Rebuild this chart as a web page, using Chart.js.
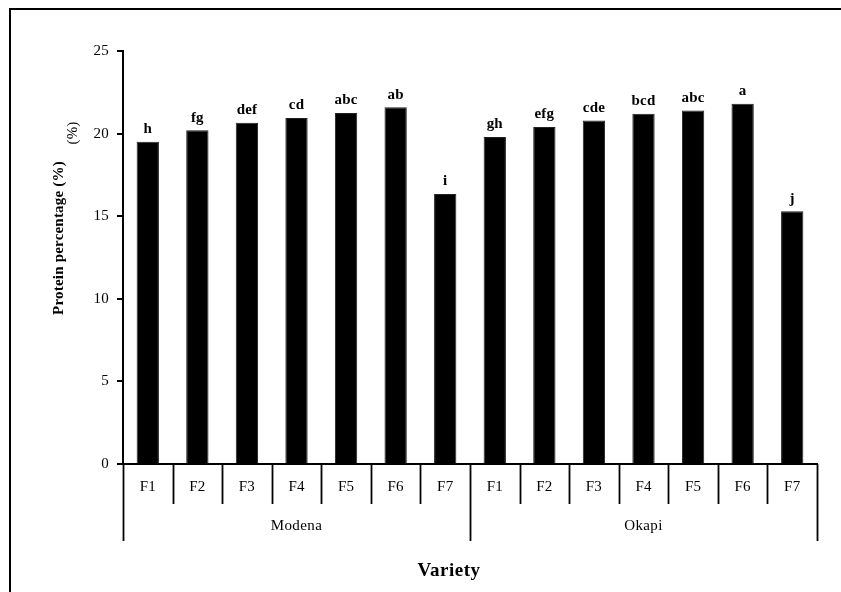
<!DOCTYPE html>
<html>
<head>
<meta charset="utf-8">
<script src="https://cdn.jsdelivr.net/npm/chart.js@4.4.0/dist/chart.umd.min.js"></script>
<style>
  html, body { margin: 0; padding: 0; background: #fff; }
  #wrap { width: 841px; height: 592px; position: relative; }
</style>
</head>
<body>
<div id="wrap"><canvas id="proteinChart" width="841" height="592"></canvas></div>
<script>
// values
const varieties = ['Modena', 'Okapi'];
const treatments = ['F1', 'F2', 'F3', 'F4', 'F5', 'F6', 'F7'];
const modenaValues = [19.5, 20.2, 20.65, 20.95, 21.25, 21.6, 16.35];
const okapiValues = [19.8, 20.4, 20.8, 21.2, 21.4, 21.8, 15.3];
const modenaLetters = ['h', 'fg', 'def', 'cd', 'abc', 'ab', 'i'];
const okapiLetters = ['gh', 'efg', 'cde', 'bcd', 'abc', 'a', 'j'];
const yMin = 0, yMax = 25, yStep = 5;

const serif = "'Liberation Serif', 'Times New Roman', serif";
const labels = treatments.concat(treatments);
const values = modenaValues.concat(okapiValues);
const letters = modenaLetters.concat(okapiLetters);

const extras = {
  id: 'extras',
  beforeDraw(chart) {
    const ctx = chart.ctx;
    ctx.fillStyle = '#000';
    ctx.fillRect(9, 8, 841, 2);
    ctx.fillRect(9, 8, 2, 592);
    ctx.letterSpacing = '0.2px';
  },
  afterDraw(chart) {
    const ctx = chart.ctx;
    const x = chart.scales.x;
    const y = chart.scales.y;
    const base = y.getPixelForValue(0);
    const half = (x.getPixelForValue(1) - x.getPixelForValue(0)) / 2;
    ctx.save();
    ctx.strokeStyle = '#000';
    ctx.lineWidth = 1.8;
    // separators under the axis
    for (let i = 0; i <= labels.length; i++) {
      const px = Math.round(x.getPixelForValue(i) - half) + 0.5;
      const len = (i % treatments.length === 0) ? 77 : 40;
      ctx.beginPath();
      ctx.moveTo(px, base);
      ctx.lineTo(px, base + len);
      ctx.stroke();
    }
    // group names
    ctx.fillStyle = '#000';
    ctx.textAlign = 'center';
    ctx.textBaseline = 'middle';
    ctx.font = '15px ' + serif;
    ctx.letterSpacing = '0.4px';
    varieties.forEach(function(v, g) {
      const a = x.getPixelForValue(g * treatments.length) - half;
      const b = x.getPixelForValue((g + 1) * treatments.length) - half;
      ctx.fillText(v, (a + b) / 2, base + 62);
    });
    // letters above bars
    ctx.font = 'bold 15px ' + serif;
    ctx.letterSpacing = '0.2px';
    ctx.textBaseline = 'bottom';
    chart.getDatasetMeta(0).data.forEach(function(bar, i) {
      ctx.fillText(letters[i], bar.x, bar.y - 5);
    });
    // axis titles
    ctx.font = 'bold 19px ' + serif;
    ctx.letterSpacing = '0.5px';
    ctx.textBaseline = 'middle';
    ctx.fillText('Variety', 449, 571);
    ctx.translate(59, 238);
    ctx.rotate(-Math.PI / 2);
    ctx.font = 'bold 15px ' + serif;
    ctx.letterSpacing = '0.2px';
    ctx.fillText('Protein percentage (%)', 0, 0);
    ctx.restore();
    ctx.save();
    ctx.translate(73, 133);
    ctx.rotate(-Math.PI / 2);
    ctx.font = '15px ' + serif;
    ctx.textAlign = 'center';
    ctx.textBaseline = 'middle';
    ctx.fillStyle = '#000';
    ctx.fillText('(%)', 0, 0);
    ctx.restore();
  }
};

new Chart(document.getElementById('proteinChart'), {
  type: 'bar',
  data: {
    labels: labels,
    datasets: [{
      data: values,
      backgroundColor: '#000',
      borderColor: '#222',
      borderWidth: 1,
      barPercentage: 0.45,
      categoryPercentage: 1
    }]
  },
  options: {
    responsive: false,
    animation: false,
    devicePixelRatio: 1,
    layout: { padding: { left: 63, top: 51, right: 24, bottom: 0 } },
    plugins: { legend: { display: false }, tooltip: { enabled: false } },
    scales: {
      x: {
        afterFit(scale) { scale.height = 128; },
        grid: { display: false, drawTicks: false },
        border: { color: '#000', width: 2 },
        ticks: { color: '#000', font: { family: serif, size: 15 }, padding: 14, maxRotation: 0, autoSkip: false }
      },
      y: {
        min: yMin,
        max: yMax,
        afterFit(scale) { scale.width = 60; },
        grid: { drawOnChartArea: false, drawTicks: true, tickLength: 6, color: '#000', lineWidth: 2 },
        border: { color: '#000', width: 2 },
        ticks: { stepSize: yStep, color: '#000', font: { family: serif, size: 15 }, padding: 8 }
      }
    }
  },
  plugins: [extras]
});
</script>
</body>
</html>
